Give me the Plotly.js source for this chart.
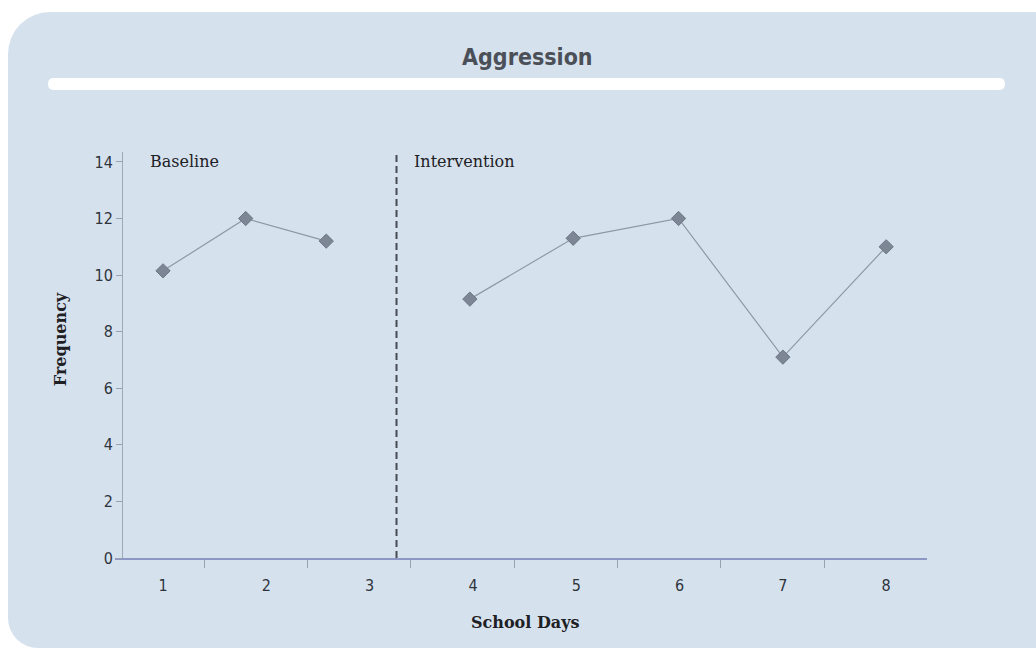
<!DOCTYPE html>
<html>
<head>
<meta charset="utf-8">
<script src="https://cdn.plot.ly/plotly-3.0.1.min.js"></script>
<style>
  html, body { margin:0; padding:0; background:#ffffff; width:1036px; height:651px; overflow:hidden; }
  #panel { position:absolute; left:8px; top:12px; width:1040px; height:636px; background:#d5e2ee; border-radius:42px 0 0 30px; }
  #chart { position:absolute; left:0; top:0; width:1036px; height:651px; }
</style>
</head>
<body>
<div id="panel"></div>
<div id="chart"></div>
<script>
// Data
const baselineDays = [1, 1.8, 2.58];
const baselineFreq = [10.15, 12.0, 11.2];
const interventionDays = [3.97, 4.97, 5.99, 7.0, 8.0];
const interventionFreq = [9.15, 11.3, 12.0, 7.1, 11.0];
const dayTicks = [1, 2, 3, 4, 5, 6, 7, 8];
const dayLabels = ['1', '2', '3', '4', '5', '6', '7', '8'];
const freqTicks = [0, 2, 4, 6, 8, 10, 12, 14];
const phaseChangeDay = 3.26;

const condFont = 'Liberation Sans Narrow, DejaVu Sans Condensed, Arial Narrow, sans-serif';
const slabFont = 'DejaVu Serif, Liberation Serif, serif';

const markerStyle = { symbol: 'diamond', size: 11, color: '#7d8695', line: { color: '#6e7786', width: 1 } };
const lineStyle = { color: '#8f98a6', width: 1.2 };

const traces = [
  { x: baselineDays, y: baselineFreq, type: 'scatter', mode: 'lines+markers', marker: markerStyle, line: lineStyle, hoverinfo: 'skip' },
  { x: interventionDays, y: interventionFreq, type: 'scatter', mode: 'lines+markers', marker: markerStyle, line: lineStyle, hoverinfo: 'skip' }
];

// white rounded band under the title (paper coordinates)
const bx0 = -0.0825, bx1 = 1.096, by0 = 1.153, by1 = 1.182, rx = 0.0074, ry = 0.0145;
const bandPath = `M ${bx0 + rx} ${by0} L ${bx1 - rx} ${by0} Q ${bx1} ${by0} ${bx1} ${by0 + ry} Q ${bx1} ${by1} ${bx1 - rx} ${by1} ` +
                 `L ${bx0 + rx} ${by1} Q ${bx0} ${by1} ${bx0} ${by1 - ry} Q ${bx0} ${by0} ${bx0 + rx} ${by0} Z`;

const layout = {
  width: 1036, height: 651,
  margin: { l: 115, r: 109, t: 152, b: 93 },
  paper_bgcolor: 'rgba(0,0,0,0)',
  plot_bgcolor: 'rgba(0,0,0,0)',
  showlegend: false,
  title: {
    text: '<b>Aggression</b>',
    font: { family: condFont, size: 23, color: '#4a4f58' },
    x: 0.509, xref: 'container', xanchor: 'center',
    y: 0.912, yref: 'container', yanchor: 'middle'
  },
  xaxis: {
    range: [0.535, 8.395],
    tickmode: 'array', tickvals: dayTicks, ticktext: dayLabels,
    ticks: '', ticklabelstandoff: 12,
    showgrid: false, zeroline: false,
    showline: true, linecolor: '#8d97c6', linewidth: 2,
    tickfont: { family: condFont, size: 16, color: '#2f343c' },
    minor: { ticks: 'outside', ticklen: 8, tickwidth: 1, tickcolor: '#9aa2b2', tick0: 0.4, dtick: 1, showgrid: false },
    fixedrange: true
  },
  yaxis: {
    range: [0, 14.35],
    anchor: 'free', position: 0.0086,
    tickmode: 'array', tickvals: freqTicks,
    ticks: 'outside', ticklen: 6, tickwidth: 1, tickcolor: '#9aa2b2',
    showgrid: false, zeroline: false,
    showline: true, linecolor: '#9ea8ba', linewidth: 1,
    tickfont: { family: condFont, size: 16, color: '#2f343c' },
    fixedrange: true
  },
  shapes: [
    { type: 'path', xref: 'paper', yref: 'paper', path: bandPath,
      fillcolor: '#ffffff', line: { width: 0 }, layer: 'below' },
    { type: 'line', xref: 'x', yref: 'y', x0: phaseChangeDay, x1: phaseChangeDay, y0: 0, y1: 14.3,
      line: { color: '#464b54', width: 2, dash: '7px,4px' } }
  ],
  annotations: [
    { text: 'Baseline', xref: 'x', yref: 'y', x: 0.85, y: 14.03, xanchor: 'left', yanchor: 'middle', showarrow: false,
      font: { family: slabFont, size: 16, color: '#1e2024' } },
    { text: 'Intervention', xref: 'x', yref: 'y', x: 3.41, y: 14.03, xanchor: 'left', yanchor: 'middle', showarrow: false,
      font: { family: slabFont, size: 16, color: '#1e2024' } },
    { text: '<b>Frequency</b>', xref: 'paper', yref: 'paper', x: -0.0677, y: 0.539, textangle: -90,
      xanchor: 'center', yanchor: 'middle', showarrow: false,
      font: { family: slabFont, size: 16, color: '#1e2024' } },
    { text: '<b>School Days</b>', xref: 'paper', yref: 'paper', x: 0.505, y: -0.158,
      xanchor: 'center', yanchor: 'middle', showarrow: false,
      font: { family: slabFont, size: 16, color: '#1e2024' } }
  ]
};

Plotly.newPlot('chart', traces, layout, { displayModeBar: false, staticPlot: true });
</script>
</body>
</html>
